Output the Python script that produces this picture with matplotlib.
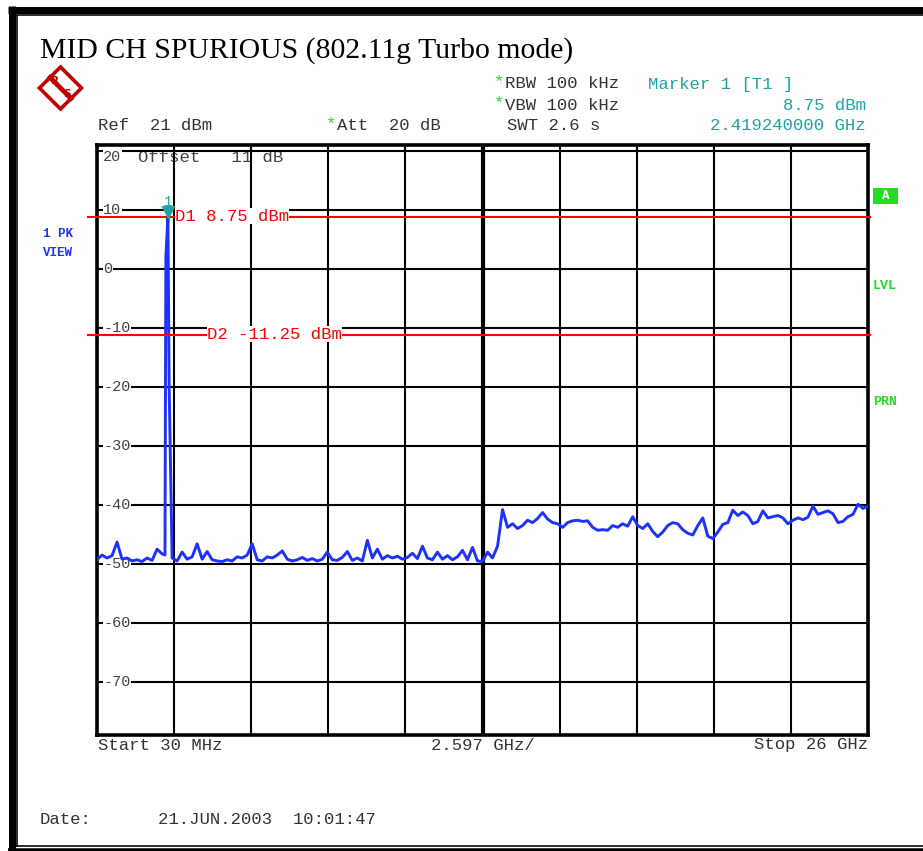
import numpy as np
import matplotlib
matplotlib.use("Agg")
import matplotlib.pyplot as plt
import matplotlib.transforms as mtransforms
from matplotlib.lines import Line2D
from matplotlib.patches import Polygon, Rectangle

# sweep settings
f_start, f_stop = 0.03, 26.0      # GHz
ref_level = 21                    # dBm, top of screen
grid_levels = [20, 10, 0, -10, -20, -30, -40, -50, -60, -70]
d1_level = 8.75
d2_level = -11.25
marker_freq = 2.41924
marker_level = 8.75

# peak trace, evenly spaced sweep points (dBm)
trace_level = [
    -49.3, -48.5, -49.0, -48.6, -46.3, -49.2, -49.0, -49.5, -49.3, -49.6,
    -49.0, -49.4, -47.5, -48.3, -48.5, -49.0, -49.5, -48.0, -49.2, -48.8,
    -46.6, -49.2, -47.9, -49.3, -49.5, -49.6, -49.3, -49.5, -48.8, -49.0,
    -48.5, -46.6, -49.3, -49.5, -48.8, -49.0, -48.5, -47.8, -49.2, -49.5,
    -49.3, -48.9, -49.4, -49.1, -49.5, -49.2, -48.0, -49.3, -49.4, -48.9,
    -47.9, -49.4, -49.0, -49.5, -46.0, -49.0, -47.5, -49.2, -48.6, -49.0,
    -48.7, -49.2, -48.9, -48.2, -49.1, -47.0, -49.0, -49.3, -48.0, -49.2,
    -48.6, -49.3, -48.8, -47.7, -49.3, -47.2, -49.5, -49.6, -48.0, -49.0,
    -47.0, -40.8, -43.8, -43.2, -44.0, -43.5, -42.6, -43.0, -42.3, -41.3,
    -42.4, -43.0, -43.2, -43.8, -43.0, -42.7, -42.6, -42.8, -42.7, -43.8,
    -44.3, -44.2, -44.3, -43.5, -43.8, -43.2, -43.6, -42.0, -43.5, -44.0,
    -43.2, -44.5, -45.4, -44.6, -43.5, -43.0, -43.2, -44.2, -44.8, -45.1,
    -43.5, -42.2, -45.3, -45.7, -44.6, -43.3, -43.0, -40.9, -41.8, -41.2,
    -41.8, -43.2, -42.8, -41.0, -42.2, -42.0, -41.8, -42.2, -43.2, -42.6,
    -42.2, -42.5, -42.1, -40.2, -41.6, -41.3, -41.0, -41.5, -43.0, -42.8,
    -42.0, -41.6, -39.9, -40.6, -40.2,
]

# carrier spike around the marker
spike_freq = [2.32, 2.35, 2.41924, 2.46, 2.56]
spike_level = [-48.5, 2.0, 8.75, -20.0, -49.0]

W, H = 923, 851
MONO = "Liberation Mono"
TEAL = "#1fa3a3"
GREY = "#333333"
BLUE = "#1e32ff"
GREEN = "#22dd22"


def fx(x):
    return x / W


def fy(y):
    return 1 - y / H


fig = plt.figure(figsize=(W / 100, H / 100), dpi=100)
fig.patch.set_facecolor("white")

# page frame
def frame_line(xs, ys, lw_px):
    fig.add_artist(Line2D([fx(x) for x in xs], [fy(y) for y in ys],
                          transform=fig.transFigure, color="black",
                          lw=lw_px * 0.72, solid_capstyle="butt"))

frame_line([8, W], [9.5, 9.5], 7)
frame_line([11.5, 11.5], [6, H], 7)
frame_line([16, W], [15.2, 15.2], 1.6)
frame_line([16.8, 16.8], [15, 846.5], 1.6)
frame_line([8, W], [849.5, 849.5], 3.5)
frame_line([16, W], [846.2, 846.2], 1.6)

ax = fig.add_axes([fx(97), fy(735), 771 / W, 590 / H])
ax.set_xlim(f_start, f_stop)
ax.set_ylim(ref_level - 100, ref_level)
ax.set_xticks(np.linspace(f_start, f_stop, 11))
ax.set_yticks(grid_levels)
ax.tick_params(length=0, labelbottom=False, labelleft=False)
ax.grid(True, color="black", lw=1.5)
ax.axvline((f_start + f_stop) / 2, color="black", lw=3.0)
for sp in ax.spines.values():
    sp.set_linewidth(2.6)

# level labels inside the grid
ytrans = mtransforms.blended_transform_factory(ax.transAxes, ax.transData)
for lvl in grid_levels:
    ax.text(0.008, lvl - (1.0 if lvl == 20 else 0), str(lvl), transform=ytrans,
            ha="left", va="center", fontsize=11, family=MONO, color="#444444",
            bbox=dict(facecolor="white", edgecolor="none", pad=0.3), zorder=3)
ax.text(0.053, 18.9, "Offset   11 dB", transform=ytrans, ha="left", va="center",
        fontsize=12.4, family=MONO, color="#444444", zorder=1)

# trace
freq = np.linspace(f_start, f_stop, len(trace_level))
level = np.array(trace_level)
keep = (freq < spike_freq[0]) | (freq > spike_freq[-1])
all_f = np.concatenate([freq[keep], spike_freq])
all_l = np.concatenate([level[keep], spike_level])
order = np.argsort(all_f)
ax.plot(all_f[order], all_l[order], color=BLUE, lw=2.1, zorder=4)

# display lines
ax.axhline(d1_level, xmin=-0.012, xmax=1.003, color="red", lw=1.5, clip_on=False, zorder=5)
ax.axhline(d2_level, xmin=-0.012, xmax=1.003, color="red", lw=1.5, clip_on=False, zorder=5)
ax.text(2.65, d1_level + 0.2, "D1 8.75 dBm", ha="left", va="center", fontsize=12.4,
        family=MONO, color="red", zorder=6,
        bbox=dict(facecolor="white", edgecolor="none", pad=0.1))
ax.text(3.75, d2_level + 0.2, "D2 -11.25 dBm", ha="left", va="center", fontsize=12.4,
        family=MONO, color="red", zorder=6,
        bbox=dict(facecolor="white", edgecolor="none", pad=0.1))

# marker 1
mk_trans = mtransforms.offset_copy(ax.transData, fig=fig, y=5, units="dots")
ax.plot(marker_freq, marker_level, marker="v", ms=9, color=TEAL,
        transform=mk_trans, zorder=7, clip_on=False)
ax.text(marker_freq, marker_level + 2.6, "1", ha="center", va="center",
        fontsize=10, family=MONO, color=TEAL, zorder=7)

# title and header
fig.text(fx(40), fy(51), "MID CH SPURIOUS (802.11g Turbo mode)", ha="left",
         va="center", fontsize=21.4, family="Liberation Serif", color="black")


def mono(x, y, s, color=GREY, ha="left", **kw):
    fig.text(fx(x), fy(y), s, ha=ha, va="center", fontsize=12.4, family=MONO,
             color=color, **kw)


mono(98, 126, "Ref  21 dBm")
mono(326, 124, "*", color=GREEN)
mono(337, 126, "Att  20 dB")
mono(494, 82, "*", color=GREEN)
mono(505, 84, "RBW 100 kHz")
mono(494, 103, "*", color=GREEN)
mono(505, 105, "VBW 100 kHz")
mono(507, 126, "SWT 2.6 s")
mono(648, 84, "Marker 1 [T1 ]", color=TEAL)
mono(866, 105, "8.75 dBm", color=TEAL, ha="right")
mono(866, 126, "2.419240000 GHz", color=TEAL, ha="right")

mono(98, 745, "Start 30 MHz")
mono(483, 745, "2.597 GHz/", ha="center")
mono(868, 745, "Stop 26 GHz", ha="right")
mono(40, 819, "Date:")
mono(158, 819, "21.JUN.2003  10:01:47")

# side annotations
for s, y in [("1 PK", 234), ("VIEW", 253)]:
    fig.text(fx(43), fy(y), s, ha="left", va="center", fontsize=9,
             family=MONO, weight="bold", color=BLUE)
fig.add_artist(Rectangle((fx(873), fy(204)), 25 / W, 16 / H,
                         transform=fig.transFigure, facecolor=GREEN, edgecolor="none"))
fig.text(fx(885.5), fy(196), "A", ha="center", va="center", fontsize=9,
         family=MONO, weight="bold", color="white")
for s, y in [("LVL", 286), ("PRN", 402)]:
    fig.text(fx(873), fy(y), s, ha="left", va="center", fontsize=9.5,
             family=MONO, weight="bold", color=GREEN)

# R&S logo
logo_red = "#c00000"
cx, cy, r = 60.5, 88, 21
fig.add_artist(Polygon([(fx(cx), fy(cy - r)), (fx(cx + r), fy(cy)),
                        (fx(cx), fy(cy + r)), (fx(cx - r), fy(cy))],
                       closed=True, transform=fig.transFigure, facecolor="white",
                       edgecolor=logo_red, lw=2.6))
fig.add_artist(Line2D([fx(cx - 10.5), fx(cx + 10.5)], [fy(cy - 10.5), fy(cy + 10.5)],
                      transform=fig.transFigure, color=logo_red, lw=3.4))
fig.text(fx(cx - 5), fy(cy - 7), "R", ha="center", va="center", fontsize=7.5,
         weight="bold", color=logo_red)
fig.text(fx(cx + 6), fy(cy + 6), "S", ha="center", va="center", fontsize=7.5,
         weight="bold", color=logo_red)

fig.savefig("out.png", dpi=100)
